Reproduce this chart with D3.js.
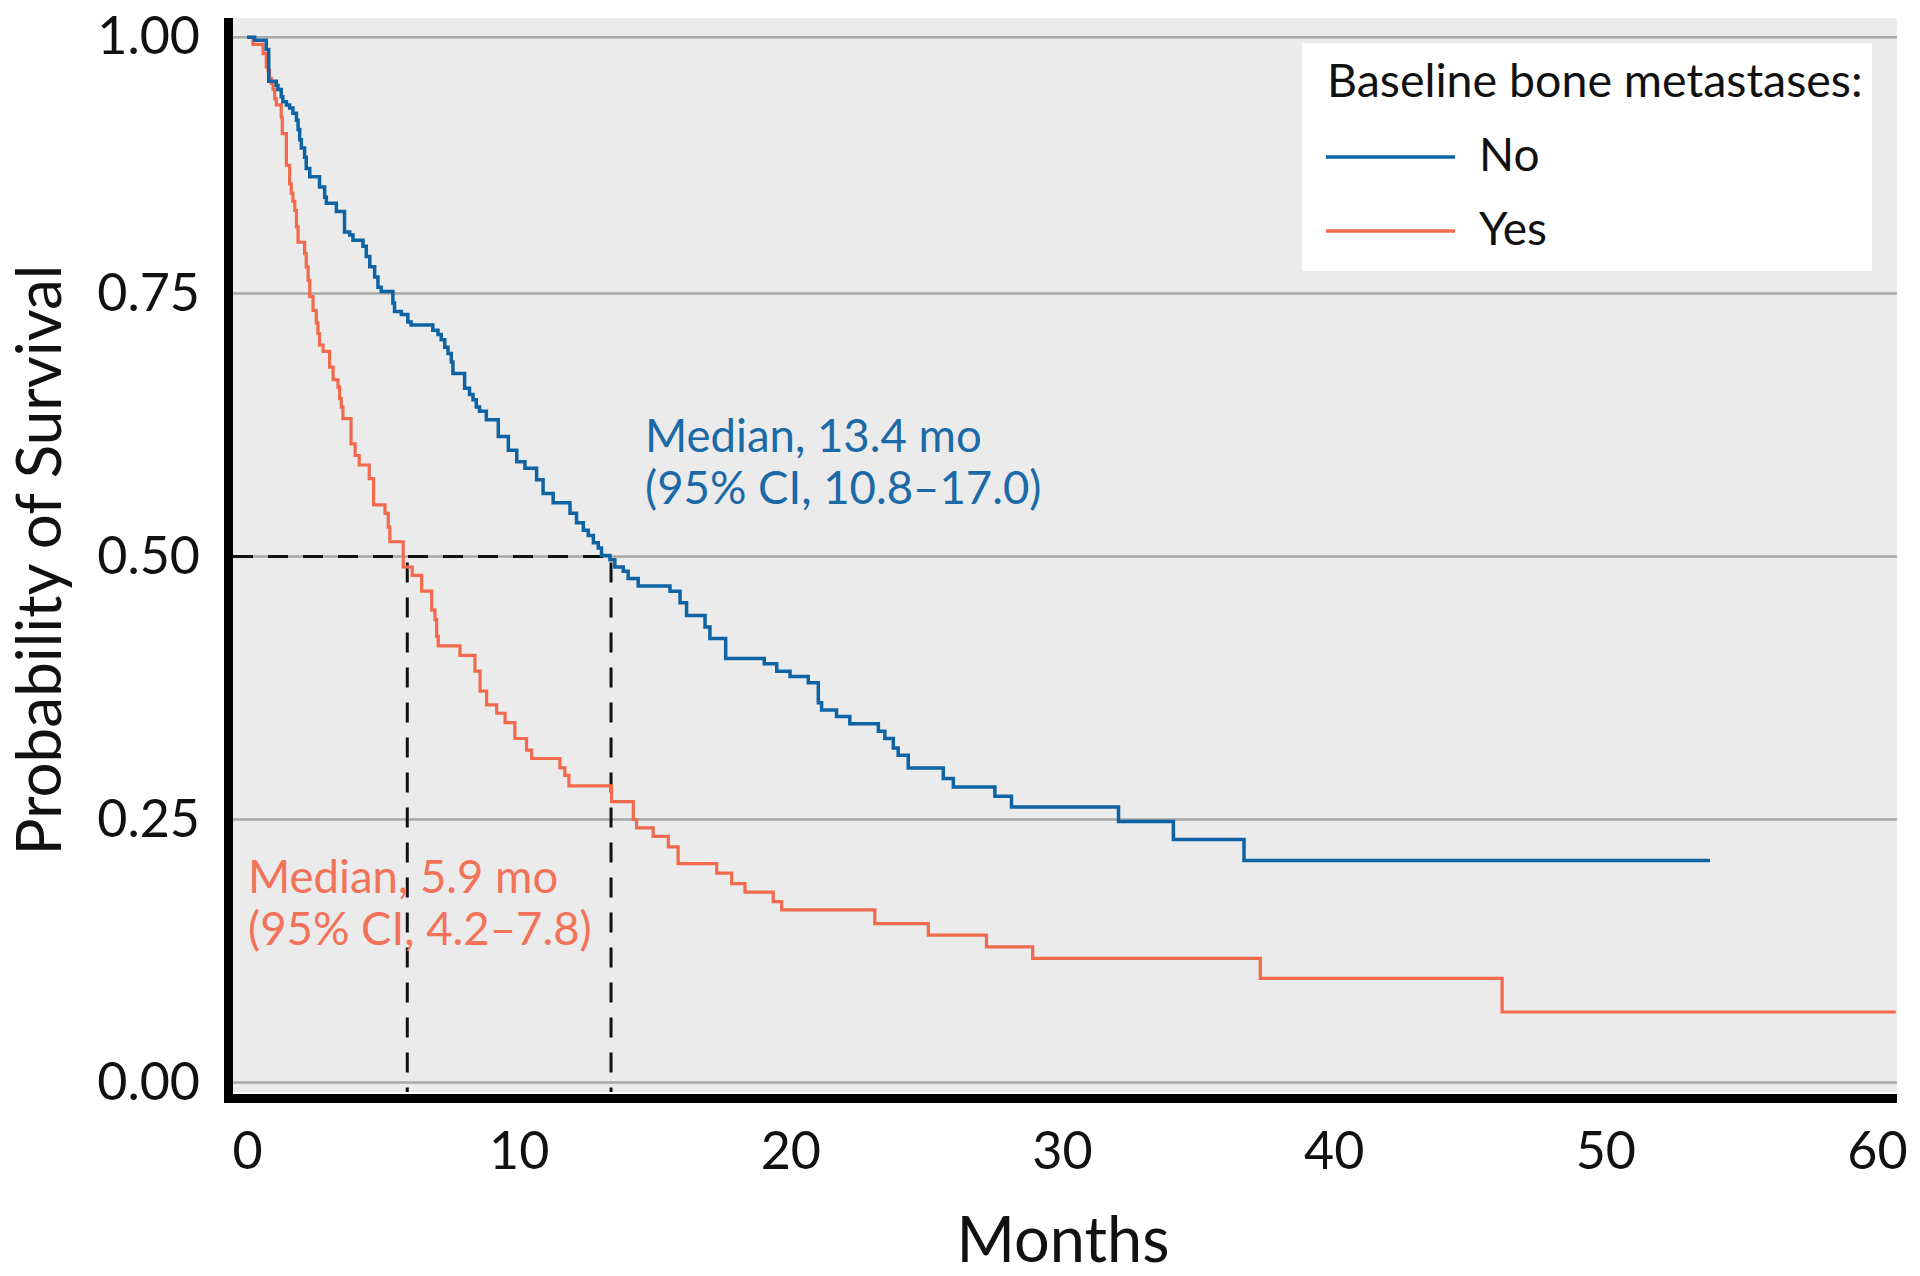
<!DOCTYPE html>
<html>
<head>
<meta charset="utf-8">
<script src="https://cdn.jsdelivr.net/npm/d3@7"></script>
<style>
  html, body { margin: 0; padding: 0; background: #ffffff; }
  svg { display: block; }
  text { font-family: Lato, "Open Sans", "DejaVu Sans", sans-serif; }
</style>
</head>
<body>
<svg id="chart" width="1920" height="1276"></svg>
<script>
// ---------------- data ----------------
const xTicks = [0, 10, 20, 30, 40, 50, 60];
const yTicks = [0, 0.25, 0.5, 0.75, 1];
const yTickLabels = ["0.00", "0.25", "0.50", "0.75", "1.00"];

const seriesNames = ["No", "Yes"];
const legendTitle = "Baseline bone metastases:";

// Kaplan-Meier steps: [month of drop, survival after drop] – "No" bone metastases
const noCurve = [[0,1.000],[0.28,0.997],[0.71,0.988],[0.80,0.957],[1.08,0.953],[1.14,0.949],[1.26,0.942],[1.32,0.937],[1.45,0.934],[1.57,0.931],[1.69,0.926],[1.82,0.919],[1.88,0.910],[1.94,0.900],[2.00,0.892],[2.12,0.883],[2.18,0.872],[2.31,0.864],[2.67,0.854],[2.86,0.844],[2.92,0.838],[3.29,0.830],[3.59,0.810],[3.78,0.807],[3.90,0.802],[4.27,0.796],[4.39,0.786],[4.52,0.776],[4.70,0.766],[4.82,0.756],[4.94,0.752],[5.37,0.741],[5.43,0.733],[5.68,0.730],[5.92,0.723],[6.04,0.720],[6.84,0.715],[7.03,0.711],[7.15,0.706],[7.28,0.699],[7.40,0.693],[7.52,0.685],[7.58,0.674],[8.01,0.660],[8.19,0.654],[8.32,0.649],[8.44,0.642],[8.56,0.638],[8.81,0.630],[9.25,0.614],[9.62,0.601],[9.93,0.590],[10.23,0.584],[10.66,0.573],[10.90,0.560],[11.27,0.551],[11.89,0.541],[12.13,0.532],[12.38,0.525],[12.56,0.520],[12.75,0.513],[12.93,0.508],[13.05,0.501],[13.36,0.497],[13.54,0.490],[13.85,0.486],[14.03,0.479],[14.40,0.472],[15.57,0.467],[15.94,0.456],[16.18,0.444],[16.86,0.433],[17.04,0.422],[17.62,0.403],[19.04,0.398],[19.50,0.391],[19.99,0.386],[20.66,0.380],[21.03,0.361],[21.15,0.354],[21.70,0.348],[22.19,0.341],[23.24,0.334],[23.48,0.327],[23.79,0.318],[23.97,0.311],[24.34,0.299],[25.63,0.289],[26.00,0.281],[27.53,0.272],[28.14,0.262],[32.08,0.248],[34.10,0.231],[36.70,0.211],[53.85,0.211]];

// "Yes" bone metastases
const yesCurve = [[0,1.000],[0.22,0.993],[0.59,0.984],[0.71,0.971],[0.77,0.968],[0.83,0.960],[0.89,0.955],[0.96,0.949],[1.02,0.940],[1.08,0.934],[1.26,0.922],[1.30,0.906],[1.45,0.875],[1.57,0.857],[1.63,0.848],[1.69,0.840],[1.76,0.831],[1.82,0.815],[1.88,0.800],[2.12,0.789],[2.18,0.776],[2.25,0.763],[2.31,0.747],[2.43,0.734],[2.55,0.722],[2.61,0.712],[2.67,0.701],[2.80,0.695],[3.04,0.680],[3.17,0.668],[3.35,0.661],[3.41,0.650],[3.47,0.642],[3.53,0.631],[3.83,0.607],[3.98,0.596],[4.13,0.587],[4.50,0.574],[4.66,0.549],[5.08,0.541],[5.20,0.528],[5.26,0.514],[5.75,0.490],[6.08,0.482],[6.43,0.467],[6.80,0.449],[6.92,0.440],[6.98,0.424],[7.04,0.415],[7.84,0.406],[8.39,0.391],[8.58,0.372],[8.82,0.359],[9.19,0.351],[9.50,0.342],[9.86,0.327],[10.29,0.316],[10.48,0.308],[11.52,0.299],[11.70,0.292],[11.85,0.282],[13.42,0.267],[14.22,0.250],[14.34,0.242],[14.95,0.234],[15.51,0.224],[15.87,0.208],[17.29,0.199],[17.84,0.189],[18.33,0.181],[19.37,0.172],[19.68,0.164],[23.11,0.151],[25.08,0.140],[27.22,0.129],[28.92,0.118],[37.30,0.099],[46.20,0.067],[60.69,0.067]];

const medians = [13.4, 5.9];
const medianLabels = [
  ["Median, 13.4 mo", "(95% CI, 10.8\u201317.0)"],
  ["Median, 5.9 mo", "(95% CI, 4.2\u20137.8)"]
];
const xTitle = "Months";
const yTitle = "Probability of Survival";

// ---------------- drawing ----------------
const colors = { No: "#0e63a4", Yes: "#f26a4b" };
const textColors = { No: "#1b6aa7", Yes: "#f2735a" };

const svg = d3.select("#chart");

const x = d3.scaleLinear().domain([0, 60]).range([247, 1877]);
const y = d3.scaleLinear().domain([0, 0.75, 1]).range([1082.5, 293.5, 37.3]);

const plotLeft = 233, plotRight = 1897, plotTop = 18, plotBottom = 1092;

// plot background
svg.append("rect")
  .attr("x", plotLeft).attr("y", plotTop)
  .attr("width", plotRight - plotLeft).attr("height", plotBottom - plotTop)
  .attr("fill", "#ebebeb");

// gridlines
svg.append("g").selectAll("line").data(yTicks).join("line")
  .attr("x1", plotLeft).attr("x2", plotRight)
  .attr("y1", d => y(d)).attr("y2", d => y(d))
  .attr("stroke", "#a8a8a8").attr("stroke-width", 2.6);

// legend box
const lg = svg.append("g");
lg.append("rect").attr("x", 1302).attr("y", 43).attr("width", 570).attr("height", 228).attr("fill", "#ffffff");
lg.append("text").attr("x", 1327).attr("y", 97).attr("font-size", 46.5).attr("fill", "#111").text(legendTitle);
seriesNames.forEach((s, i) => {
  const yy = 157 + i * 74;
  lg.append("line").attr("x1", 1326).attr("x2", 1455).attr("y1", yy).attr("y2", yy)
    .attr("stroke", colors[s]).attr("stroke-width", 3.6);
  lg.append("text").attr("x", 1479).attr("y", yy + 14).attr("font-size", 46).attr("fill", "#111").text(s);
});

// median dashed guides
const dash = "20,15";
const guides = svg.append("g").attr("stroke", "#111").attr("stroke-width", 3).attr("stroke-dasharray", dash).attr("fill", "none");
guides.append("line").attr("x1", plotLeft).attr("x2", x(d3.max(medians))).attr("y1", y(0.5)).attr("y2", y(0.5));
medians.forEach(m => {
  guides.append("line").attr("x1", x(m)).attr("x2", x(m)).attr("y1", y(0.5) + 6).attr("y2", plotBottom);
});

// survival curves
const line = d3.line().x(d => x(d[0])).y(d => y(d[1])).curve(d3.curveStepAfter);
svg.append("path").datum(yesCurve).attr("d", line).attr("fill", "none")
  .attr("stroke", colors.Yes).attr("stroke-width", 3.2);
svg.append("path").datum(noCurve).attr("d", line).attr("fill", "none")
  .attr("stroke", colors.No).attr("stroke-width", 3.5);

// annotations
const annPos = [{x: 645, y: 452, c: textColors.No}, {x: 248, y: 893, c: textColors.Yes}];
medianLabels.forEach((lines, i) => {
  lines.forEach((t, j) => {
    svg.append("text").attr("x", annPos[i].x).attr("y", annPos[i].y + j * 52)
      .attr("font-size", 45.5).attr("fill", annPos[i].c).text(t);
  });
});

// axes (labels only, via d3 axes)
const yAxis = d3.axisLeft(y).tickValues(yTicks).tickSize(0).tickPadding(33)
  .tickFormat((d, i) => yTickLabels[i]);
const gy = svg.append("g").attr("transform", `translate(${plotLeft},0)`).call(yAxis);
gy.select(".domain").remove();
gy.selectAll("text").attr("font-size", 52).attr("fill", "#111").attr("font-family", "Lato, sans-serif");

const xAxis = d3.axisBottom(x).tickValues(xTicks).tickSize(0).tickPadding(29).tickFormat(d3.format("d"));
const gx = svg.append("g").attr("transform", `translate(0,1103)`).call(xAxis);
gx.select(".domain").remove();
gx.selectAll("text").attr("font-size", 52).attr("fill", "#111").attr("font-family", "Lato, sans-serif");

// thick axis lines
svg.append("rect").attr("x", 224).attr("y", plotTop).attr("width", 9).attr("height", 1103 - plotTop).attr("fill", "#000");
svg.append("rect").attr("x", 224).attr("y", 1094).attr("width", plotRight - 224).attr("height", 9).attr("fill", "#000");

// axis titles
svg.append("text").attr("x", 1063).attr("y", 1262).attr("text-anchor", "middle")
  .attr("font-size", 63).attr("fill", "#111").text(xTitle);
svg.append("text").attr("transform", "translate(61,560) rotate(-90)").attr("text-anchor", "middle")
  .attr("font-size", 62).attr("fill", "#111").text(yTitle);
</script>
</body>
</html>
